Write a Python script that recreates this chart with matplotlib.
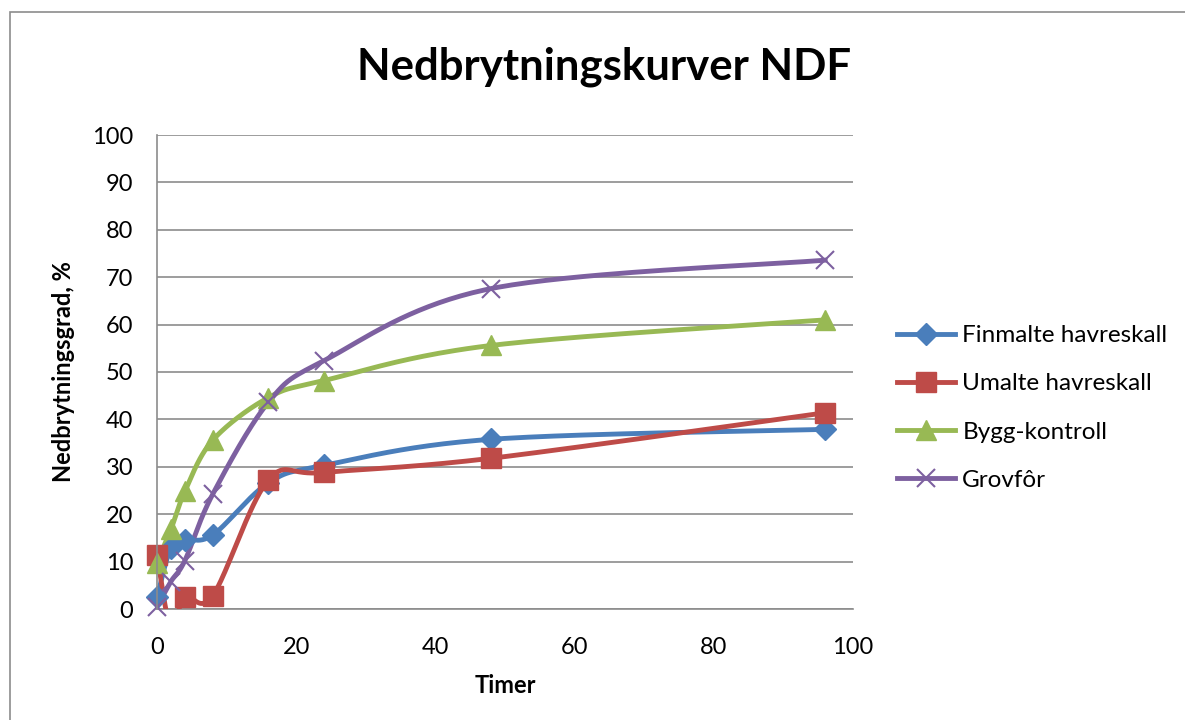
import matplotlib.pyplot as plt
import numpy as np
from matplotlib.patches import Rectangle

# timer
timer = [0, 2, 4, 8, 16, 24, 48, 96]

finmalte = [2.5, 12.9, 14.6, 15.6, 26.6, 30.3, 35.8, 37.9]
umalte = [11.3, -4.0, 2.6, 2.8, 27.2, 28.8, 31.8, 41.4]
bygg = [9.8, 16.8, 24.8, 35.6, 44.6, 48.2, 55.6, 61.0]
grovfor = [0.4, 5.8, 10.2, 24.2, 43.6, 52.4, 67.6, 73.6]

serier = ['Finmalte havreskall', 'Umalte havreskall', 'Bygg-kontroll', 'Grovfôr']
farger = ['#4a7ebb', '#be4b48', '#98b954', '#7d60a0']
markorer = ['D', 's', '^', 'x']
marker_str = [11, 14, 14, 13]


def glatt(x, y, n=40):
    # Catmull-Rom via bezier, slik Excel glatter linjer
    x = np.asarray(x, dtype=float)
    y = np.asarray(y, dtype=float)
    p = np.column_stack([x, y])
    ut = []
    for i in range(len(p) - 1):
        p0 = p[i - 1] if i > 0 else p[i]
        p1 = p[i]
        p2 = p[i + 1]
        p3 = p[i + 2] if i + 2 < len(p) else p[i + 1]
        c1 = p1 + (p2 - p0) / 6
        c2 = p2 - (p3 - p1) / 6
        t = np.linspace(0, 1, n)[:, None]
        b = ((1 - t) ** 3) * p1 + 3 * ((1 - t) ** 2) * t * c1 + 3 * (1 - t) * t ** 2 * c2 + t ** 3 * p2
        ut.append(b if i == 0 else b[1:])
    b = np.vstack(ut)
    return b[:, 0], b[:, 1]


plt.rcParams['font.family'] = ['Lato', 'DejaVu Sans']

fig = plt.figure(figsize=(11.85, 7.2), dpi=100)
fig.patches.append(Rectangle((10 / 1185, -0.1), 1.2, 1 - 12 / 720 + 0.1,
                             transform=fig.transFigure, fill=False,
                             edgecolor='#8c8c8c', linewidth=1.2))

ax = fig.add_axes([157 / 1185, 1 - 609 / 720, (853 - 157) / 1185, (609 - 135) / 720])

for verdier, navn, farge, mk, ms in zip([finmalte, umalte, bygg, grovfor], serier, farger, markorer, marker_str):
    gx, gy = glatt(timer, verdier)
    ax.plot(gx, gy, color=farge, linewidth=3.5, zorder=3)
    # punkter utenfor aksen tegnes ikke
    tx = [a for a, b in zip(timer, verdier) if 0 <= b <= 100]
    ty = [b for b in verdier if 0 <= b <= 100]
    ax.plot(tx, ty, linestyle='none', marker=mk, markersize=ms,
            markeredgewidth=1.5 if mk == 'x' else 1, color=farge,
            markeredgecolor=farge, zorder=4, clip_on=False)
    ax.plot([], [], color=farge, linewidth=3.5, marker=mk, markersize=ms,
            markeredgewidth=1.5 if mk == 'x' else 1, label=navn)

ax.set_xlim(0, 100)
ax.set_ylim(0, 100)
ax.set_xticks(range(0, 101, 20))
ax.set_yticks(range(0, 101, 10))
ax.grid(axis='y', color='#8c8c8c', linewidth=1.2)
ax.set_axisbelow(True)
ax.tick_params(length=0, labelsize=17)
ax.tick_params(axis='y', pad=17)
ax.tick_params(axis='x', pad=20)
for s in ['top', 'right']:
    ax.spines[s].set_visible(False)
for s in ['left', 'bottom']:
    ax.spines[s].set_color('#8c8c8c')
    ax.spines[s].set_linewidth(1.2)
ax.spines['left'].set_zorder(5)

ax.set_xlabel('Timer', fontsize=17, fontweight='bold', labelpad=12)
ax.set_ylabel('Nedbrytningsgrad, %', fontsize=17, fontweight='bold', labelpad=12)
fig.text(604 / 1185, 1 - 67 / 720, 'Nedbrytningskurver NDF', fontsize=31.5,
         fontweight='bold', ha='center', va='center')

ax.legend(loc='center left', bbox_to_anchor=(887 / 1185, 1 - 408 / 720),
          bbox_transform=fig.transFigure, borderaxespad=0, frameon=False,
          fontsize=17.5, handlelength=2.4, labelspacing=1.12, handletextpad=0.3)

fig.savefig('out.png', dpi=100)
